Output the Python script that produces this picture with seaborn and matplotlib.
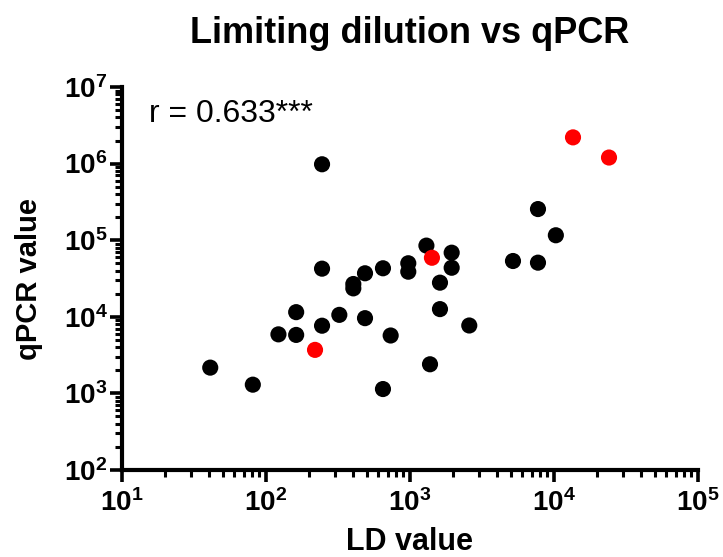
import matplotlib
matplotlib.use("Agg")
import matplotlib.pyplot as plt
import seaborn as sns
import pandas as pd
import numpy as np
from matplotlib.ticker import LogLocator, FixedLocator, FuncFormatter, NullFormatter

# ---- data ----
ld_black = [41, 81, 122, 162, 162, 245, 245, 245, 323, 404, 404, 487, 487,
            649, 649, 734, 973, 973, 1300, 1377, 1615, 1615, 1947, 1947,
            2580, 5190, 7740, 7740, 10300]
qpcr_black = [2170, 1300, 5900, 5800, 11500, 980000, 42500, 7650, 10600,
              26800, 23500, 37000, 9600, 43000, 1140, 5700, 50000, 38800,
              85000, 2400, 27900, 12600, 68700, 43700, 7700, 53500, 50900,
              255000, 116000]
ld_red = [219, 1420, 13550, 24100]
qpcr_red = [3700, 59000, 2200000, 1200000]

group_names = ["other", "highlight"]
colors = ["#000000", "#ff0000"]

title = "Limiting dilution vs qPCR"
xlabel = "LD value"
ylabel = "qPCR value"
annotation = "r = 0.633***"
x_decades = [1, 2, 3, 4, 5]
y_decades = [2, 3, 4, 5, 6, 7]

df = pd.DataFrame({
    "LD": ld_black + ld_red,
    "qPCR": qpcr_black + qpcr_red,
    "group": [group_names[0]] * len(ld_black) + [group_names[1]] * len(ld_red),
})

sns.set_style("ticks")
plt.rcParams["font.family"] = ["Liberation Sans", "DejaVu Sans"]
plt.rcParams["mathtext.fontset"] = "custom"
plt.rcParams["mathtext.rm"] = "Liberation Sans:bold"
plt.rcParams["mathtext.it"] = "Liberation Sans:bold"
plt.rcParams["mathtext.bf"] = "Liberation Sans:bold"
plt.rcParams["mathtext.sf"] = "Liberation Sans:bold"
plt.rcParams["mathtext.default"] = "rm"
for k in ["text.color", "axes.labelcolor", "xtick.color", "ytick.color",
          "xtick.labelcolor", "ytick.labelcolor"]:
    plt.rcParams[k] = "black"

fig = plt.figure(figsize=(7.23, 5.57), dpi=100)
ax = fig.add_axes([122 / 723, 1 - 470 / 557, 576 / 723, 383 / 557])

sns.scatterplot(data=df, x="LD", y="qPCR", hue="group",
                palette=dict(zip(group_names, colors)),
                s=135, linewidth=0, legend=False, ax=ax, zorder=3,
                clip_on=False)

ax.set_xscale("log")
ax.set_yscale("log")
ax.set_xlim(10 ** x_decades[0], 10 ** x_decades[-1])
ax.set_ylim(10 ** y_decades[0], 10 ** y_decades[-1])

ax.xaxis.set_major_locator(FixedLocator([10.0 ** d for d in x_decades]))
ax.yaxis.set_major_locator(FixedLocator([10.0 ** d for d in y_decades]))
ax.xaxis.set_minor_locator(LogLocator(base=10, subs=np.arange(2, 10), numticks=20))
ax.yaxis.set_minor_locator(LogLocator(base=10, subs=np.arange(2, 10), numticks=20))
ax.xaxis.set_minor_formatter(NullFormatter())
ax.yaxis.set_minor_formatter(NullFormatter())
fmt = FuncFormatter(lambda v, p: r"$10^{%d}$" % int(round(np.log10(v))))
ax.xaxis.set_major_formatter(fmt)
ax.yaxis.set_major_formatter(fmt)

for s in ["top", "right"]:
    ax.spines[s].set_visible(False)
for s in ["left", "bottom"]:
    ax.spines[s].set_linewidth(3.0)
    ax.spines[s].set_color("black")
    ax.spines[s].set_capstyle("projecting")

ax.tick_params(which="major", direction="out", length=8.5, width=2.6,
               color="black", labelcolor="black", labelsize=20, pad=5)
ax.tick_params(which="minor", direction="out", length=5, width=2.2,
               color="black")
ax.tick_params(axis="y", which="major", pad=2)

ax.set_title(title, fontsize=26, fontweight="bold", pad=32, color="black")
ax.set_xlabel(xlabel, fontsize=22, fontweight="bold", color="black")
ax.set_ylabel(ylabel, fontsize=21, fontweight="bold", color="black")
ax.xaxis.set_label_coords(0.5, -0.15)
ax.yaxis.set_label_coords(-0.137, 0.5)

ax.text((149 - 122) / 576, (470 - 122) / 383, annotation, transform=ax.transAxes,
        fontsize=23, ha="left", va="baseline", color="black")

fig.savefig("out.png", dpi=100)
